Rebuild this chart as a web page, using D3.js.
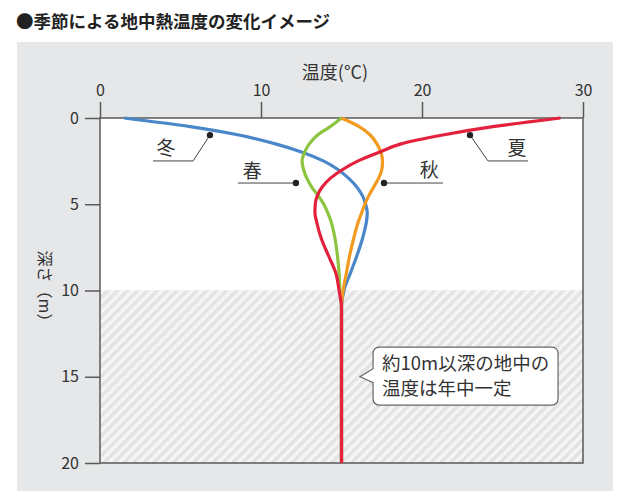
<!DOCTYPE html>
<html lang="ja">
<head>
<meta charset="utf-8">
<title>季節による地中熱温度の変化イメージ</title>
<script src="https://cdn.jsdelivr.net/npm/d3@7"></script>
<style>
  body { margin: 0; background: #fff; }
  text { font-family: "Noto Sans CJK JP", "Noto Sans", sans-serif; fill: #333; }
</style>
</head>
<body>
<script>
// depth (m) shared by all series, temperature (°C) per season
var depths = [0, 0.5, 1, 1.5, 2, 2.5, 3, 3.5, 4, 4.5, 5, 5.5, 6, 7, 8, 9, 10, 11, 20];
var winter = [1.5, 5.6, 8.7, 10.9, 12.6, 13.9, 14.8, 15.45, 15.95, 16.3, 16.5, 16.6, 16.55, 16.3, 15.95, 15.55, 15.15, 15, 15];
var spring = [15, 14.3, 13.5, 13.0, 12.7, 12.55, 12.65, 12.85, 13.15, 13.55, 13.9, 14.15, 14.35, 14.6, 14.75, 14.85, 14.9, 15, 15];
var autumn = [15, 16.1, 16.8, 17.2, 17.45, 17.55, 17.5, 17.3, 17.0, 16.7, 16.45, 16.25, 16.05, 15.75, 15.5, 15.3, 15.1, 15, 15];
var summer = [28.6, 24.4, 21.2, 18.7, 17.3, 16.0, 15.05, 14.3, 13.8, 13.5, 13.37, 13.35, 13.45, 13.75, 14.2, 14.65, 14.85, 15, 15];

var xTicks = [0, 10, 20, 30];
var yTicks = [0, 5, 10, 15, 20];
var constDepth = 10;

var width = 633, height = 503;
var margin = {top: 118, right: 50, bottom: 40, left: 100};

var x = d3.scaleLinear().domain([0, 30]).range([margin.left, 583]);
var y = d3.scaleLinear().domain([0, 20]).range([margin.top, 463]);

var svg = d3.select("body").append("svg")
  .attr("width", width)
  .attr("height", height);

// hatch pattern for the constant-temperature zone
var defs = svg.append("defs");
var pat = defs.append("pattern")
  .attr("id", "hatch")
  .attr("patternUnits", "userSpaceOnUse")
  .attr("width", 7).attr("height", 7)
  .attr("patternTransform", "rotate(45)");
pat.append("rect").attr("width", 7).attr("height", 7).attr("fill", "#f5f5f5");
pat.append("rect").attr("width", 3.5).attr("height", 7).attr("fill", "#e3e3e4");

// grey panel
svg.append("rect")
  .attr("x", 17).attr("y", 42)
  .attr("width", 596).attr("height", 449)
  .attr("fill", "#e6e7e8");

// title
svg.append("text")
  .attr("x", 16).attr("y", 28)
  .attr("font-size", 17.5)
  .attr("font-weight", "bold")
  .style("fill", "#222")
  .text("●季節による地中熱温度の変化イメージ");

// plot background
svg.append("rect")
  .attr("x", x(0)).attr("y", y(0))
  .attr("width", x(30) - x(0)).attr("height", y(constDepth) - y(0))
  .attr("fill", "#fff");
svg.append("rect")
  .attr("x", x(0)).attr("y", y(constDepth))
  .attr("width", x(30) - x(0)).attr("height", y(20) - y(constDepth))
  .attr("fill", "url(#hatch)");

// axes
var axisColor = "#58595b";
var xAxis = d3.axisTop(x).tickValues(xTicks).tickSize(16).tickPadding(6);
var yAxis = d3.axisLeft(y).tickValues(yTicks).tickSize(15).tickPadding(6);

var gx = svg.append("g")
  .attr("transform", "translate(0," + y(0) + ")")
  .call(xAxis);
var gy = svg.append("g")
  .attr("transform", "translate(" + x(0) + ",0)")
  .call(yAxis);

[gx, gy].forEach(function(g) {
  g.select(".domain").remove();
  g.selectAll("line").attr("stroke", axisColor).attr("stroke-width", 1.5);
  g.selectAll("text")
    .attr("font-size", 16)
    .attr("font-family", "'Noto Sans CJK JP', sans-serif")
    .style("fill", "#333");
});

// frame around the plot
svg.append("rect")
  .attr("x", x(0)).attr("y", y(0))
  .attr("width", x(30) - x(0)).attr("height", y(20) - y(0))
  .attr("fill", "none")
  .attr("stroke", axisColor)
  .attr("stroke-width", 1.5);

// axis titles
svg.append("text")
  .attr("x", 335).attr("y", 79)
  .attr("text-anchor", "middle")
  .attr("font-size", 18)
  .text("温度(°C)");

svg.append("text")
  .attr("transform", "translate(39,290) rotate(90)")
  .attr("text-anchor", "middle")
  .attr("font-size", 16)
  .text("深さ（m）");

// season curves
var series = [
  {name: "冬", values: winter, color: "#4a87c9"},
  {name: "春", values: spring, color: "#8cc43f"},
  {name: "秋", values: autumn, color: "#f39a21"},
  {name: "夏", values: summer, color: "#e3213d"}
];

var line = d3.line()
  .x(function(d) { return x(d[0]); })
  .y(function(d) { return y(d[1]); })
  .curve(d3.curveMonotoneY);

svg.selectAll(".season")
  .data(series)
  .enter()
  .append("path")
  .attr("class", "season")
  .attr("fill", "none")
  .attr("stroke", function(d) { return d.color; })
  .attr("stroke-width", 3.2)
  .attr("stroke-linejoin", "round")
  .attr("d", function(d) {
    return line(d.values.map(function(t, i) { return [t, depths[i]]; }));
  });

// season labels with leader lines (positions in data units)
var labels = [
  {name: "冬", pts: [[6.83, 0.99], [5.78, 2.49], [3.29, 2.49]], tx: 4.1, ty: 1.68},
  {name: "春", pts: [[12.17, 3.77], [8.57, 3.77]], tx: 9.45, ty: 3.0},
  {name: "秋", pts: [[17.64, 3.77], [21.3, 3.77]], tx: 20.45, ty: 2.9},
  {name: "夏", pts: [[22.98, 0.99], [24.1, 2.49], [26.58, 2.49]], tx: 25.9, ty: 1.68}
];

var leader = d3.line()
  .x(function(d) { return x(d[0]); })
  .y(function(d) { return y(d[1]); });

var lg = svg.selectAll(".lbl")
  .data(labels)
  .enter()
  .append("g")
  .attr("class", "lbl");

lg.append("path")
  .attr("d", function(d) { return leader(d.pts); })
  .attr("fill", "none")
  .attr("stroke", "#444")
  .attr("stroke-width", 1);

lg.append("circle")
  .attr("cx", function(d) { return x(d.pts[0][0]); })
  .attr("cy", function(d) { return y(d.pts[0][1]); })
  .attr("r", 3.2)
  .attr("fill", "#222");

lg.append("text")
  .attr("x", function(d) { return x(d.tx); })
  .attr("y", function(d) { return y(d.ty); })
  .attr("text-anchor", "middle")
  .attr("dominant-baseline", "central")
  .attr("font-size", 19)
  .text(function(d) { return d.name; });

// callout box
var bx0 = x(16.96), bx1 = x(28.45), by0 = y(13.28), by1 = y(16.64);
var tipX = x(16.15), tipY = y(15.0), r = 6;
var p = d3.path();
p.moveTo(bx0 + r, by0);
p.lineTo(bx1 - r, by0);
p.arcTo(bx1, by0, bx1, by0 + r, r);
p.lineTo(bx1, by1 - r);
p.arcTo(bx1, by1, bx1 - r, by1, r);
p.lineTo(bx0 + r, by1);
p.arcTo(bx0, by1, bx0, by1 - r, r);
p.lineTo(bx0, tipY + 6);
p.lineTo(tipX, tipY);
p.lineTo(bx0, tipY - 8);
p.lineTo(bx0, by0 + r);
p.arcTo(bx0, by0, bx0 + r, by0, r);
p.closePath();

svg.append("path")
  .attr("d", p.toString())
  .attr("fill", "#fff")
  .attr("stroke", "#666")
  .attr("stroke-width", 1.2);

var noteLines = ["約10m以深の地中の", "温度は年中一定"];
svg.selectAll(".note")
  .data(noteLines)
  .enter()
  .append("text")
  .attr("class", "note")
  .attr("x", bx0 + 9)
  .attr("y", function(d, i) { return by0 + 23 + i * 25; })
  .attr("font-size", 18.5)
  .text(function(d) { return d; });
</script>
</body>
</html>
